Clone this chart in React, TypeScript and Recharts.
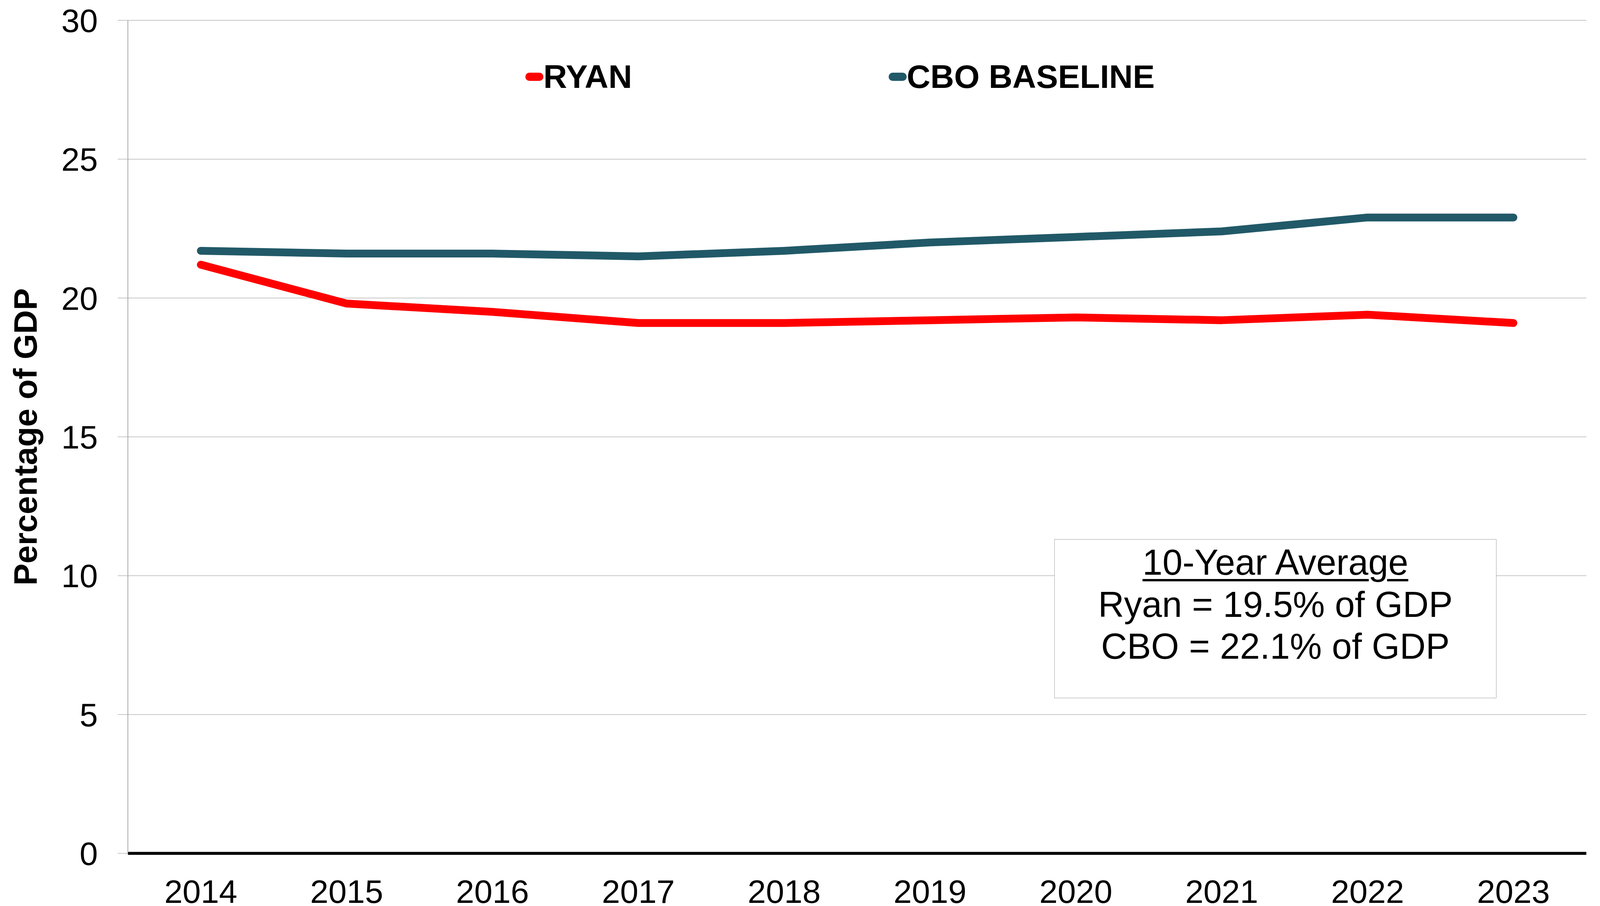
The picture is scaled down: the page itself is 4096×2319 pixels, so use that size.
import * as React from "react";
import {
  LineChart,
  Line,
  XAxis,
  YAxis,
  CartesianGrid,
  Legend,
} from "recharts";

const YEARS = [2014, 2015, 2016, 2017, 2018, 2019, 2020, 2021, 2022, 2023];
const RYAN = [21.2, 19.8, 19.5, 19.1, 19.1, 19.2, 19.3, 19.2, 19.4, 19.1];
const CBO = [21.7, 21.6, 21.6, 21.5, 21.7, 22.0, 22.2, 22.4, 22.9, 22.9];
const Y_TICKS = [0, 5, 10, 15, 20, 25, 30];
// tick marks sit between the years, like "between tick marks" in Excel
const BAND_EDGES = [2013.5, 2014.5, 2015.5, 2016.5, 2017.5, 2018.5, 2019.5, 2020.5, 2021.5, 2022.5, 2023.5];
const SERIES_ORDER = ["RYAN", "CBO BASELINE"];
const AVERAGE_TITLE = "10-Year Average";
const AVERAGE_LINES = ["Ryan = 19.5% of GDP", "CBO = 22.1% of GDP"];

const data = YEARS.map((year, i) => ({ year, ryan: RYAN[i], cbo: CBO[i] }));

const FONT = '"Liberation Sans", Arial, Helvetica, sans-serif';
const GRID = "#b4b4b4";
const AXIS_GRAY = "#8c8c8c";

function LegendContent(props: any) {
  const items = [...(props.payload || [])].sort(
    (a: any, b: any) => SERIES_ORDER.indexOf(a.value) - SERIES_ORDER.indexOf(b.value)
  );
  return (
    <div style={{ display: "flex", alignItems: "center", height: 100, fontFamily: FONT }}>
      {items.map((entry: any, i: number) => (
        <div
          key={entry.value}
          style={{ display: "flex", alignItems: "center", marginLeft: i === 0 ? 0 : 657 }}
        >
          <div style={{ width: 46, height: 21, borderRadius: 10, background: entry.color }} />
          <span style={{ fontSize: 84, fontWeight: 700, lineHeight: "84px", color: "#000" }}>
            {entry.value}
          </span>
        </div>
      ))}
    </div>
  );
}

function YLabel(props: any) {
  const vb = props.viewBox || {};
  const cy = vb.y + vb.height / 2;
  return (
    <text
      x={94}
      y={cy}
      transform={`rotate(-90, 94, ${cy})`}
      textAnchor="middle"
      fontFamily={FONT}
      fontSize={84}
      fontWeight={700}
      fill="#000"
    >
      Percentage of GDP
    </text>
  );
}

export default function App() {
  return (
    <div style={{ position: "absolute", left: 0, top: 0, width: 4096, height: 2319, background: "#fff" }}>
      <LineChart
        width={4096}
        height={2319}
        data={data}
        margin={{ top: 52, right: 35, left: 0, bottom: 0 }}
        style={{ fontFamily: FONT }}
      >
        <CartesianGrid vertical={false} stroke={GRID} strokeWidth={1.5} />
        <XAxis
          xAxisId="edges"
          dataKey="year"
          type="number"
          domain={[2013.5, 2023.5]}
          ticks={BAND_EDGES}
          interval={0}
          height={1}
          tick={false}
          tickSize={24}
          tickLine={{ stroke: AXIS_GRAY, strokeWidth: 1.5 }}
          axisLine={{ stroke: "#000", strokeWidth: 7.5 }}
        />
        <XAxis
          xAxisId="labels"
          dataKey="year"
          type="number"
          domain={[2013.5, 2023.5]}
          ticks={YEARS}
          interval={0}
          height={133.7}
          axisLine={false}
          tickLine={false}
          tickSize={0}
          tickMargin={66}
          tick={{ fontSize: 84, fill: "#000", fontFamily: FONT }}
        />
        <YAxis
          type="number"
          domain={[0, 30]}
          ticks={Y_TICKS}
          interval={0}
          width={327.4}
          tickSize={26}
          tickMargin={51}
          axisLine={{ stroke: AXIS_GRAY, strokeWidth: 1.5 }}
          tickLine={{ stroke: GRID, strokeWidth: 1.5 }}
          tick={{ fontSize: 84, fill: "#000", fontFamily: FONT }}
          label={<YLabel />}
        />
        <Legend
          layout="horizontal"
          verticalAlign="middle"
          align="center"
          content={<LegendContent />}
          wrapperStyle={{ top: 146, left: 1345, width: 2400, height: 100 }}
        />
        <Line
          xAxisId="labels"
          type="linear"
          dataKey="ryan"
          name="RYAN"
          stroke="#ff0000"
          strokeWidth={20}
          strokeLinecap="round"
          strokeLinejoin="round"
          dot={false}
          activeDot={false}
          isAnimationActive={false}
        />
        <Line
          xAxisId="labels"
          type="linear"
          dataKey="cbo"
          name="CBO BASELINE"
          stroke="#215968"
          strokeWidth={20}
          strokeLinecap="round"
          strokeLinejoin="round"
          dot={false}
          activeDot={false}
          isAnimationActive={false}
        />
      </LineChart>
      <div
        style={{
          position: "absolute",
          left: 2699,
          top: 1380,
          width: 1132,
          height: 407,
          boxSizing: "border-box",
          border: "1.5px solid #a0a0a0",
          background: "#fff",
          fontFamily: FONT,
          fontSize: 92,
          lineHeight: "107.5px",
          textAlign: "center",
          color: "#000",
          paddingTop: 5,
        }}
      >
        <div
          style={{
            textDecoration: "underline",
            textDecorationThickness: 6,
            textUnderlineOffset: 11,
          }}
        >
          {AVERAGE_TITLE}
        </div>
        {AVERAGE_LINES.map((t) => (
          <div key={t}>{t}</div>
        ))}
      </div>
    </div>
  );
}
